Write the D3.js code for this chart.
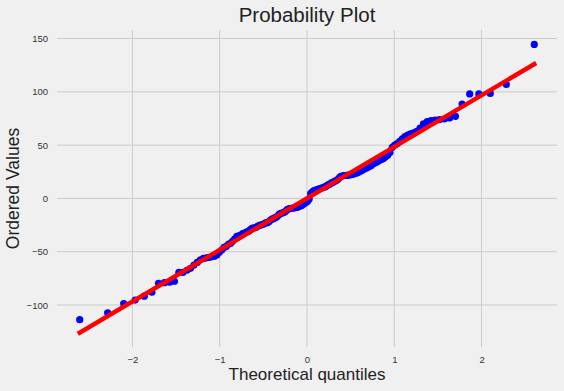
<!DOCTYPE html>
<html>
<head>
<meta charset="utf-8">
<script src="https://cdn.jsdelivr.net/npm/d3@7"></script>
<style>
  html, body { margin: 0; padding: 0; background: #f0f0f0; }
  svg { display: block; }
  text { font-family: "Liberation Sans", Arial, sans-serif; }
</style>
</head>
<body>
<svg id="chart" width="564" height="391"></svg>
<script>
// Theoretical quantiles (x) of the 150 ordered observations
const quantiles = [
  -2.604,-2.284,-2.100,-1.969,-1.864,-1.777,-1.701,-1.634,-1.574,-1.519,
  -1.468,-1.421,-1.377,-1.335,-1.295,-1.257,-1.221,-1.187,-1.154,-1.122,
  -1.092,-1.062,-1.033,-1.005,-0.977,-0.951,-0.925,-0.900,-0.875,-0.851,
  -0.827,-0.804,-0.781,-0.759,-0.737,-0.715,-0.694,-0.673,-0.652,-0.631,
  -0.611,-0.591,-0.572,-0.552,-0.533,-0.514,-0.495,-0.476,-0.457,-0.439,
  -0.421,-0.402,-0.384,-0.367,-0.349,-0.331,-0.314,-0.296,-0.279,-0.262,
  -0.244,-0.227,-0.210,-0.193,-0.176,-0.159,-0.142,-0.126,-0.109,-0.092,
  -0.075,-0.058,-0.042,-0.025,-0.008,
  0.008,0.025,0.042,0.058,0.075,0.092,0.109,0.126,0.142,0.159,
  0.176,0.193,0.210,0.227,0.244,0.262,0.279,0.296,0.314,0.331,
  0.349,0.367,0.384,0.402,0.421,0.439,0.457,0.476,0.495,0.514,
  0.533,0.552,0.572,0.591,0.611,0.631,0.652,0.673,0.694,0.715,
  0.737,0.759,0.781,0.804,0.827,0.851,0.875,0.900,0.925,0.951,
  0.977,1.005,1.033,1.062,1.092,1.122,1.154,1.187,1.221,1.257,
  1.295,1.335,1.377,1.421,1.468,1.519,1.574,1.634,1.701,1.777,
  1.864,1.969,2.100,2.284,2.604
];

// Ordered values (y)
const orderedValues = [
  -113.8,-107.3,-98.6,-95.4,-91.7,-88.0,-79.6,-79.0,-78.6,-77.7,
  -69.3,-69.3,-67.4,-65.6,-62.5,-60.0,-57.6,-56.3,-55.8,-55.3,
  -54.8,-54.2,-53.0,-50.5,-48.5,-46.0,-45.0,-43.0,-42.0,-40.0,
  -38.0,-35.5,-35.0,-34.5,-33.0,-32.5,-31.5,-31.0,-29.5,-28.0,
  -27.5,-27.5,-26.5,-25.5,-25.0,-24.5,-24.0,-23.0,-22.8,-22.0,
  -20.5,-19.5,-19.0,-18.0,-17.5,-16.0,-14.5,-14.0,-13.5,-13.0,
  -12.0,-10.5,-9.8,-9.5,-9.2,-9.0,-8.8,-8.5,-8.2,-7.5,
  -7.0,-6.5,-5.5,-4.5,-3.5,-2.5,-0.5,4.5,6.0,7.0,
  7.5,8.0,8.5,9.0,9.5,10.0,10.5,11.0,12.0,13.0,
  13.5,14.5,15.0,16.0,16.5,17.5,19.0,20.5,21.0,21.3,
  21.5,21.7,21.9,22.0,22.5,23.0,23.5,24.0,24.5,25.5,
  26.5,27.5,28.0,29.0,30.0,31.0,32.5,33.5,34.5,35.5,
  36.5,37.5,39.0,40.5,43.0,48.0,50.0,51.5,53.5,56.0,
  58.0,59.5,60.5,61.5,63.0,66.0,70.0,72.0,73.0,73.5,
  74.0,74.5,75.5,77.0,88.5,98.0,98.0,98.5,107.0,144.5
];

const xTicks = [-2, -1, 0, 1, 2];
const yTicks = [-100, -50, 0, 50, 100, 150];

const titleText = "Probability Plot";
const xLabel = "Theoretical quantiles";
const yLabel = "Ordered Values";

// least-squares fit line (as in scipy probplot)
const mx = d3.mean(quantiles), my = d3.mean(orderedValues);
let sxy = 0, sxx = 0;
quantiles.forEach((q, i) => { sxy += (q - mx) * (orderedValues[i] - my); sxx += (q - mx) * (q - mx); });
const slope = sxy / sxx, intercept = my - slope * mx;
const xExt = d3.extent(quantiles);
const fitLine = xExt.map(q => ({ x: q, y: slope * q + intercept }));

const W = 564, H = 391;
const margin = { left: 57, right: 7, top: 30, bottom: 44 };
const svg = d3.select("#chart");

// autoscale with 5% margins, like matplotlib
const pad = (ext) => { const r = ext[1] - ext[0]; return [ext[0] - 0.05 * r, ext[1] + 0.05 * r]; };
const yExt = d3.extent(orderedValues.concat(fitLine.map(d => d.y)));
const x = d3.scaleLinear().domain(pad(xExt)).range([margin.left, W - margin.right]);
const y = d3.scaleLinear().domain(pad(yExt)).range([H - margin.bottom, margin.top]);

svg.append("rect").attr("width", W).attr("height", H).attr("fill", "#f0f0f0");

// grid
const grid = svg.append("g");
grid.selectAll(".gx").data(xTicks).enter().append("line")
  .attr("x1", d => x(d)).attr("x2", d => x(d))
  .attr("y1", margin.top).attr("y2", H - margin.bottom)
  .attr("stroke", "#cbcbcb").attr("stroke-width", 1);
grid.selectAll(".gy").data(yTicks).enter().append("line")
  .attr("y1", d => y(d)).attr("y2", d => y(d))
  .attr("x1", margin.left).attr("x2", W - margin.right)
  .attr("stroke", "#cbcbcb").attr("stroke-width", 1);

const fmt = d3.format("d");
// axes (labels only, no spines)
const xAxis = svg.append("g").attr("transform", `translate(0,${H - margin.bottom})`)
  .call(d3.axisBottom(x).tickValues(xTicks).tickFormat(d => fmt(d).replace("-", "\u2212")).tickSize(0).tickPadding(9));
const yAxis = svg.append("g").attr("transform", `translate(${margin.left},0)`)
  .call(d3.axisLeft(y).tickValues(yTicks).tickFormat(d => fmt(d).replace("-", "\u2212")).tickSize(0).tickPadding(9));
[xAxis, yAxis].forEach(a => {
  a.select(".domain").remove();
  a.selectAll("text").attr("fill", "#333").style("font-size", "9.5px")
    .style("font-family", "'Liberation Sans', Arial, sans-serif");
});

// points
svg.append("g").selectAll("circle").data(quantiles).enter().append("circle")
  .attr("cx", (d) => x(d)).attr("cy", (d, i) => y(orderedValues[i]))
  .attr("r", 3.6).attr("fill", "#0000ff");

// fit line
svg.append("path").datum(fitLine)
  .attr("d", d3.line().x(d => x(d.x)).y(d => y(d.y)))
  .attr("stroke", "#ff0000").attr("stroke-width", 4.5).attr("fill", "none")
  .attr("stroke-linecap", "square");

// titles
const cx = (margin.left + W - margin.right) / 2;
svg.append("text").attr("x", cx).attr("y", 22).attr("text-anchor", "middle")
  .attr("fill", "#222").style("font-size", "20.5px").text(titleText);
svg.append("text").attr("x", cx).attr("y", 380).attr("text-anchor", "middle")
  .attr("fill", "#222").style("font-size", "17px").text(xLabel);
svg.append("text").attr("transform", `translate(18.5,${(margin.top + H - margin.bottom) / 2}) rotate(-90)`)
  .attr("text-anchor", "middle").attr("fill", "#222").style("font-size", "17.5px").text(yLabel);
</script>
</body>
</html>
